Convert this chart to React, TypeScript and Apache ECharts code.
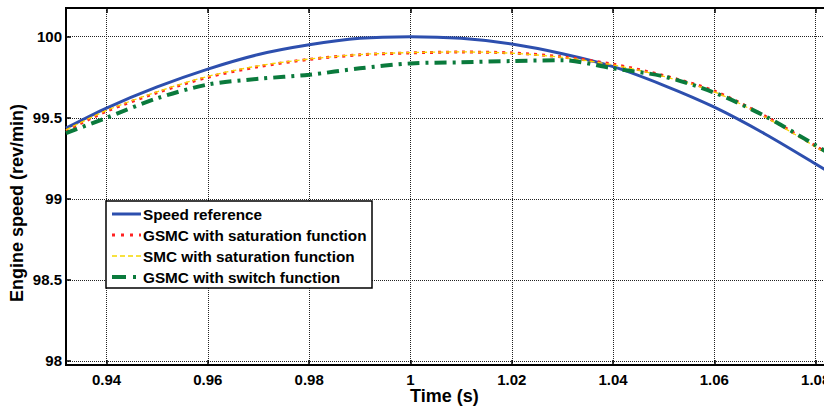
import React, { useEffect, useRef } from "react";
import * as echarts from "echarts";

const times = [0.932, 0.94, 0.95, 0.96, 0.97, 0.98, 0.99, 1.0, 1.01, 1.02, 1.03, 1.04, 1.05, 1.06, 1.07, 1.08, 1.085];
const speedRef = [99.436, 99.56, 99.69, 99.8, 99.89, 99.95, 99.99, 100.0, 99.99, 99.955, 99.895, 99.815, 99.7, 99.565, 99.4, 99.215, 99.12];
const gsmcSat = [99.42, 99.54, 99.655, 99.75, 99.815, 99.86, 99.888, 99.9, 99.905, 99.9, 99.875, 99.83, 99.76, 99.665, 99.51, 99.325, 99.23];
const smcSat = [99.425, 99.545, 99.66, 99.755, 99.82, 99.862, 99.89, 99.902, 99.906, 99.898, 99.872, 99.826, 99.755, 99.66, 99.505, 99.32, 99.225];
const gsmcSwitch = [99.405, 99.5, 99.62, 99.705, 99.74, 99.765, 99.805, 99.835, 99.842, 99.85, 99.855, 99.805, 99.755, 99.655, 99.51, 99.33, 99.235];

const seriesNames = [
  "Speed reference",
  "GSMC with saturation function",
  "SMC with saturation function",
  "GSMC with switch function",
];

const FONT = "'Liberation Sans', Arial, sans-serif";

const COLORS = ["#2d4fae", "#ff2222", "#f5d800", "#0a7a3c"];
const WIDTHS = [3, 3, 1.3, 4];
const DASHES: (number[] | null)[] = [null, [3, 5], [5, 3], [12, 6, 3, 6]];
const LEGEND_DASHES: (number[] | null)[] = [null, [3, 6], [5, 3], [14, 7, 3, 6]];

function pairs(vals: number[]) {
  return times.map((t, i) => [t, vals[i]]);
}

export default function App() {
  const ref = useRef<HTMLDivElement>(null);
  useEffect(() => {
    if (!ref.current) return;
    const chart = echarts.init(ref.current, undefined, { renderer: "svg" });
    const xCommon = {
      type: "value" as const,
      min: 0.932,
      max: 1.085,
      splitNumber: 7,
    };
    const allVals = [speedRef, gsmcSat, smcSat, gsmcSwitch];

    const legendX = 106;
    const legendY = 201;
    const rowY = [214, 235, 256, 277];
    const legendGraphics: any[] = [
      {
        type: "rect",
        shape: { x: legendX, y: legendY, width: 266, height: 87 },
        style: { fill: "#fff", stroke: "#000", lineWidth: 1.5 },
        z: 100,
      },
    ];
    seriesNames.forEach((name, i) => {
      legendGraphics.push({
        type: "line",
        shape: { x1: 112, y1: rowY[i], x2: 141, y2: rowY[i] },
        style: {
          stroke: COLORS[i],
          lineWidth: WIDTHS[i],
          lineDash: LEGEND_DASHES[i] || undefined,
        },
        z: 101,
      });
      legendGraphics.push({
        type: "text",
        x: 143,
        y: rowY[i],
        style: {
          text: name,
          fill: "#000",
          font: `bold 15.3px ${FONT}`,
          verticalAlign: "middle",
          align: "left",
        },
        z: 101,
      });
    });

    chart.setOption({
      animation: false,
      backgroundColor: "#fff",
      grid: {
        left: 66,
        right: 9,
        top: 8,
        bottom: 42,
        show: true,
        borderColor: "#000",
        borderWidth: 2,
        backgroundColor: "transparent",
      },
      xAxis: [
        {
          ...xCommon,
          position: "bottom",
          axisLine: { show: true, lineStyle: { color: "#000", width: 2 } },
          axisTick: { show: true, inside: true, length: 5, lineStyle: { color: "#000", width: 1.5 } },
          axisLabel: {
            showMinLabel: false,
            showMaxLabel: false,
            color: "#000",
            fontFamily: FONT,
            fontWeight: "bold",
            fontSize: 15,
            margin: 7,
          },
          splitLine: { show: true, lineStyle: { color: "#222", width: 1, type: [1, 1] } },
        },
        {
          ...xCommon,
          position: "top",
          axisLine: { show: true, lineStyle: { color: "#000", width: 2 } },
          axisTick: { show: true, inside: true, length: 5, lineStyle: { color: "#000", width: 1.5 } },
          axisLabel: { show: false },
          splitLine: { show: false },
        },
      ],
      yAxis: {
        type: "value",
        min: 97.975,
        max: 100.177,
        splitNumber: 5,
        axisLine: { show: true, lineStyle: { color: "#000", width: 2 } },
        axisTick: { show: true, inside: true, length: 5, lineStyle: { color: "#000", width: 1.5 } },
        axisLabel: {
          showMinLabel: false,
          showMaxLabel: false,
          color: "#000",
          fontFamily: FONT,
          fontWeight: "bold",
          fontSize: 15,
          margin: 4,
        },
        splitLine: { show: true, lineStyle: { color: "#222", width: 1, type: [1, 1] } },
      },
      graphic: [
        {
          type: "text",
          left: 410,
          top: 387,
          style: { text: "Time (s)", fill: "#000", font: `bold 18px ${FONT}` },
        },
        {
          type: "text",
          x: 8,
          y: 302,
          rotation: Math.PI / 2,
          style: { text: "Engine speed (rev/min)", fill: "#000", font: `bold 18px ${FONT}` },
        },
        ...legendGraphics,
      ],
      series: seriesNames.map((name, i) => ({
        name,
        type: "line",
        data: pairs(allVals[i]),
        smooth: 0.3,
        symbol: "none",
        lineStyle: { color: COLORS[i], width: WIDTHS[i], type: DASHES[i] || "solid" },
        itemStyle: { color: COLORS[i] },
        z: 2 + i,
      })),
    });
    return () => chart.dispose();
  }, []);
  return (
    <div style={{ position: "absolute", left: 0, top: 0, width: 824, height: 407, overflow: "hidden", background: "#fff" }}>
      <div ref={ref} style={{ width: 850, height: 407 }} />
    </div>
  );
}
